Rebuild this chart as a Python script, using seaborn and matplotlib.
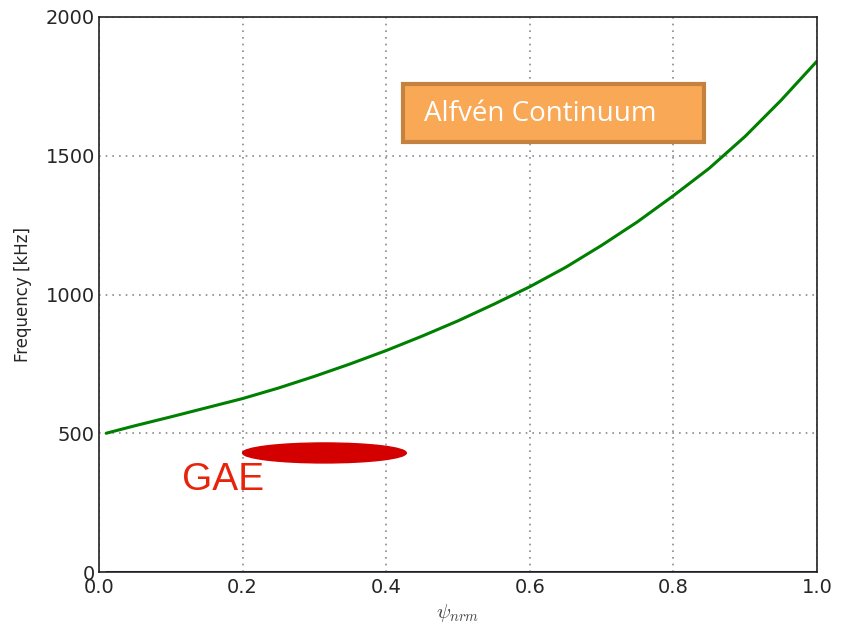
import numpy as np
import pandas as pd
import matplotlib
matplotlib.use("Agg")
import matplotlib.pyplot as plt
import seaborn as sns
from matplotlib.patches import Ellipse, Rectangle

# Data
psi = [0.01, 0.05, 0.1, 0.15, 0.2, 0.25, 0.3, 0.35, 0.4, 0.45, 0.5,
       0.55, 0.6, 0.65, 0.7, 0.75, 0.8, 0.85, 0.9, 0.95, 1.0]
freq_alfven = [500, 527, 559, 592, 625, 663, 705, 750, 798, 850, 905,
               965, 1028, 1098, 1177, 1262, 1356, 1455, 1570, 1700, 1841]
freq_zero = [0] * len(psi)
gae_center = (0.314, 429)
gae_size = (0.228, 72)
xticks = [0.0, 0.2, 0.4, 0.6, 0.8, 1.0]
yticks = [0, 500, 1000, 1500, 2000]

sns.set_theme(style="white")
plt.rcParams['font.family'] = ['DejaVu Sans']
plt.rcParams['mathtext.fontset'] = 'cm'

fig = plt.figure(figsize=(8.46, 6.26), dpi=100)
ax = fig.add_axes([99/846, 1-572/626, (817-99)/846, (572-17)/626])

df = pd.DataFrame({"psi": psi, "f": freq_alfven, "z": freq_zero})
sns.lineplot(data=df, x="psi", y="f", ax=ax, color="#008000", linewidth=2.2)
sns.lineplot(data=df, x="psi", y="z", ax=ax, color="#1a1a8c", linewidth=2.2)

ax.add_patch(Ellipse(gae_center, gae_size[0], gae_size[1], color="#d40000", zorder=3))
ax.text(0.115, 330, "GAE", color="#e8230c", fontsize=28, family=["Liberation Sans"],
        ha="left", va="center")
ax.add_patch(Rectangle((0.424, 1548), 0.418, 212, facecolor="#f9a856",
                       edgecolor="#c5823f", linewidth=3, zorder=4))
ax.text(0.4526, 1650, "Alfvén Continuum", color="white", fontsize=20, family=["Open Sans"],
        ha="left", va="center", zorder=5)

ax.set_xlim(0, 1)
ax.set_ylim(0, 2000)
ax.set_xticks(xticks)
ax.set_yticks(yticks)
ax.tick_params(direction="in", length=5, labelsize=14, color="black")
ax.tick_params(axis="x", pad=4)
ax.tick_params(axis="y", pad=3)
ax.grid(True, linestyle=(0, (1, 3)), color="#8a8a8a", linewidth=1.2)
for s in ax.spines.values():
    s.set_color("#222222")
    s.set_linewidth(1.2)
ax.set_xlabel(r"$\psi_{nrm}$", fontsize=15, labelpad=4, color="#444444")
ax.set_ylabel("Frequency [kHz]", fontsize=12, labelpad=10)
ax.set_axisbelow(True)

fig.savefig("out.png", dpi=100)
